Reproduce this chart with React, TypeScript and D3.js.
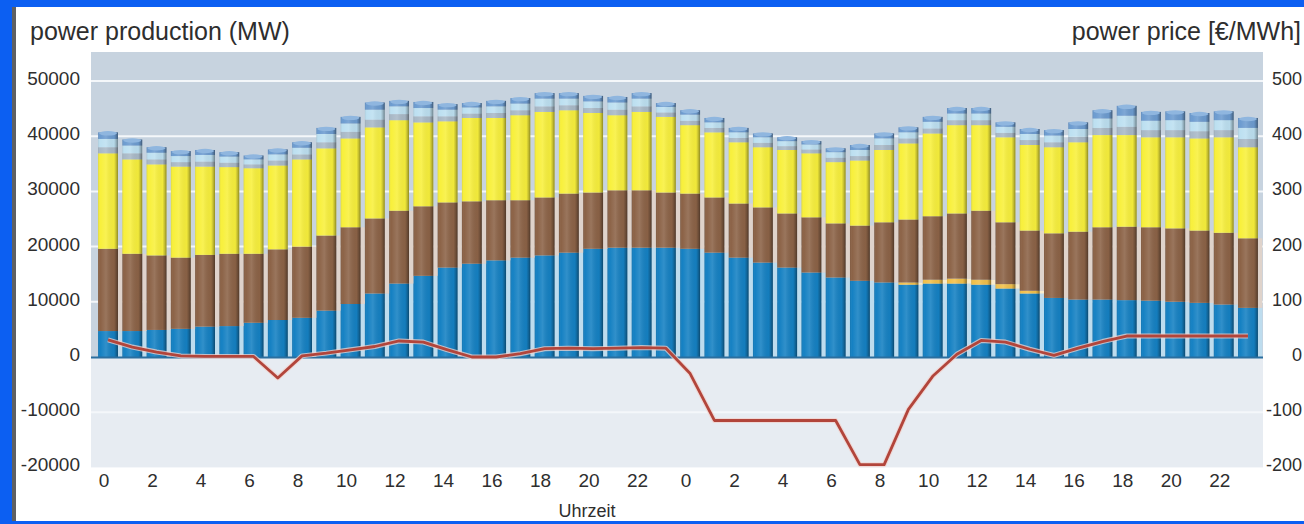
import * as d3 from 'd3';
import { useEffect, useRef } from 'react';

// 48 hourly values, two days
const hours = [
  0, 1, 2, 3, 4, 5, 6, 7, 8, 9, 10, 11, 12, 13, 14, 15, 16, 17, 18, 19, 20, 21, 22, 23,
  0, 1, 2, 3, 4, 5, 6, 7, 8, 9, 10, 11, 12, 13, 14, 15, 16, 17, 18, 19, 20, 21, 22, 23,
];

const blue = [
  4700, 4700, 4900, 5100, 5500, 5600, 6200, 6700, 7100, 8400, 9600, 11500,
  13300, 14700, 16200, 16900, 17500, 18000, 18400, 18900, 19600, 19800, 19800, 19800,
  19600, 18900, 18000, 17100, 16200, 15300, 14400, 13800, 13500, 13100, 13300, 13300,
  13100, 12400, 11500, 10700, 10400, 10400, 10300, 10200, 10000, 9800, 9500, 8900,
];
const orange = [
  0, 0, 0, 0, 0, 0, 0, 0, 0, 0, 0, 0,
  0, 0, 0, 0, 0, 0, 0, 0, 0, 0, 0, 0,
  0, 0, 0, 0, 0, 0, 0, 0, 0, 400, 700, 900,
  900, 800, 500, 0, 0, 0, 0, 0, 0, 0, 0, 0,
];
const brown = [
  14900, 14000, 13500, 12900, 13000, 13100, 12500, 12800, 12900, 13600, 13900, 13600,
  13200, 12600, 11800, 11300, 10900, 10400, 10500, 10700, 10200, 10400, 10400, 10000,
  10000, 10000, 9800, 10000, 9800, 10000, 9800, 10000, 10900, 11400, 11500, 11800,
  12500, 11200, 10900, 11700, 12300, 13100, 13300, 13300, 13300, 13100, 13000, 12600,
];
const yellow = [
  17300, 17100, 16500, 16500, 16000, 15700, 15500, 15200, 15800, 15800, 16100, 16500,
  16400, 15200, 14700, 15100, 14900, 15400, 15500, 15100, 14400, 13600, 14200, 13700,
  12400, 11800, 11100, 10900, 11500, 11600, 11100, 11800, 13100, 13800, 15000, 16000,
  15500, 15400, 15500, 15600, 16200, 16700, 16600, 16300, 16500, 16700, 17300, 16500,
];
const grey = [
  1100, 1100, 900, 800, 900, 800, 700, 900, 900, 1100, 1200, 1400,
  1100, 1100, 900, 800, 900, 900, 1000, 900, 900, 1000, 1000, 800,
  800, 800, 800, 800, 700, 700, 800, 800, 900, 900, 900, 900,
  900, 800, 900, 900, 1000, 1300, 1500, 1300, 1300, 1300, 1300, 1500,
];
const lightBlue = [
  1500, 1400, 1200, 1100, 1200, 1100, 900, 1100, 1200, 1500, 1500, 1800,
  1400, 1500, 1200, 1100, 1200, 1200, 1400, 1200, 1200, 1300, 1400, 1000,
  1100, 1000, 1000, 1000, 900, 900, 1000, 1100, 1200, 1100, 1200, 1200,
  1200, 1100, 1100, 1200, 1400, 1700, 2000, 1700, 1800, 1700, 1800, 2000,
];
const cap = [
  1200, 1100, 1000, 900, 900, 800, 700, 900, 1000, 1100, 1200, 1300,
  1000, 1100, 1000, 800, 1000, 1000, 1000, 1000, 1000, 1000, 1000, 700,
  800, 800, 800, 700, 700, 600, 700, 900, 900, 900, 900, 1000,
  1000, 800, 900, 1000, 1200, 1500, 1800, 1600, 1600, 1600, 1600, 1800,
];
const price = [
  31, 18, 9, 2, 1, 1, 1, -38, 2, 7, 13, 19,
  29, 27, 13, 0, 0, 6, 15, 16, 15, 16, 17, 16,
  -30, -115, -115, -115, -115, -115, -115, -195, -195, -95, -35, 5,
  30, 27, 14, 3, 16, 28, 38, 38, 38, 38, 38, 38,
];

const leftTicks = [50000, 40000, 30000, 20000, 10000, 0, -10000, -20000];
const rightTicks = [500, 400, 300, 200, 100, 0, -100, -200];
const gridLines = [50000, 40000, 30000, 20000, 10000, -10000];

const seriesKeys = ['blue', 'orange', 'brown', 'yellow', 'grey', 'lightBlue', 'cap'];
const seriesColors = ['#1581c3', '#f2c04a', '#8c6347', '#f8f03c', '#a9b9c7', '#bde0f1', '#6d9cd0'];
const gapGlow = [true, true, true, false, false, false, false];

const W = 1304;
const H = 524;
const FONT = "'Liberation Sans', Arial, sans-serif";

export default function App() {
  const svgRef = useRef(null);

  useEffect(() => {
    const svg = d3.select(svgRef.current);
    svg.selectAll('*').remove();

    const idx = d3.range(hours.length);
    const rows = idx.map((i) => ({
      blue: blue[i],
      orange: orange[i],
      brown: brown[i],
      yellow: yellow[i],
      grey: grey[i],
      lightBlue: lightBlue[i],
      cap: cap[i],
    }));
    const stacked = d3.stack().keys(seriesKeys)(rows as any);

    const x = d3
      .scaleBand()
      .domain(idx as any)
      .range([95.9, 1260.1])
      .paddingInner(0.18)
      .paddingOuter(0.09);
    const y = d3.scaleLinear().domain([-20000, 55250]).range([467.4, 52]);
    const yP = d3.scaleLinear().domain([-200, 552.5]).range([467.4, 52]);
    const bw = x.bandwidth();
    const gap = x.step() - bw;

    const defs = svg.append('defs');
    const sh = defs
      .append('linearGradient')
      .attr('id', 'shade')
      .attr('x1', 0)
      .attr('x2', 1)
      .attr('y1', 0)
      .attr('y2', 0);
    sh.append('stop').attr('offset', '0%').attr('stop-color', '#000').attr('stop-opacity', 0.1);
    sh.append('stop').attr('offset', '12%').attr('stop-color', '#fff').attr('stop-opacity', 0.0);
    sh.append('stop').attr('offset', '40%').attr('stop-color', '#fff').attr('stop-opacity', 0.12);
    sh.append('stop').attr('offset', '80%').attr('stop-color', '#000').attr('stop-opacity', 0.03);
    sh.append('stop').attr('offset', '90%').attr('stop-color', '#000').attr('stop-opacity', 0.2);
    sh.append('stop').attr('offset', '100%').attr('stop-color', '#000').attr('stop-opacity', 0.42);

    // frame
    svg.append('rect').attr('width', W).attr('height', H).attr('fill', '#ffffff');
    svg.append('rect').attr('width', W).attr('height', 7).attr('fill', '#0c5ff2');
    svg.append('rect').attr('width', 12).attr('height', H).attr('fill', '#0c5ff2');
    svg.append('rect').attr('y', 521).attr('width', W).attr('height', 3).attr('fill', '#0c5ff2');
    svg.append('rect').attr('x', 12).attr('y', 7).attr('width', 4).attr('height', 514).attr('fill', '#5f6062');

    // plot background
    svg
      .append('rect')
      .attr('x', 91)
      .attr('y', 52)
      .attr('width', 1172)
      .attr('height', y(0) - 52)
      .attr('fill', '#c7d3df');
    svg
      .append('rect')
      .attr('x', 91)
      .attr('y', y(0))
      .attr('width', 1172)
      .attr('height', 467.4 - y(0))
      .attr('fill', '#e7ecf2');

    svg
      .append('g')
      .selectAll('line')
      .data(gridLines)
      .enter()
      .append('line')
      .attr('x1', 91)
      .attr('x2', 1263)
      .attr('y1', (d) => y(d))
      .attr('y2', (d) => y(d))
      .attr('stroke', '#f4f7fa')
      .attr('stroke-width', 2);

    // bars
    const bars = svg.append('g');
    stacked.forEach((layer: any, k: number) => {
      const col = seriesColors[k];
      const g = bars.append('g');
      if (gapGlow[k]) {
        g.selectAll('rect.glow')
          .data(layer)
          .enter()
          .append('rect')
          .attr('class', 'glow')
          .attr('x', (d: any, i: number) => (x(i as any) as number) + bw)
          .attr('y', (d: any) => y(d[1]))
          .attr('width', gap)
          .attr('height', (d: any) => Math.max(0, y(d[0]) - y(d[1])))
          .attr('fill', d3.interpolateRgb(col, '#ffffff')(0.72));
      }
      g.selectAll('rect.seg')
        .data(layer)
        .enter()
        .append('rect')
        .attr('class', 'seg')
        .attr('x', (d: any, i: number) => x(i as any) as number)
        .attr('y', (d: any) => y(d[1]))
        .attr('width', bw)
        .attr('height', (d: any) => Math.max(0, y(d[0]) - y(d[1])))
        .attr('fill', col);
    });

    const top = stacked[stacked.length - 1];
    // cylinder shading over each bar
    bars
      .append('g')
      .selectAll('rect')
      .data(top)
      .enter()
      .append('rect')
      .attr('x', (d: any, i: number) => x(i as any) as number)
      .attr('y', (d: any) => y(d[1]))
      .attr('width', bw)
      .attr('height', (d: any) => y(0) - y(d[1]))
      .attr('fill', 'url(#shade)');
    // rounded top
    bars
      .append('g')
      .selectAll('ellipse')
      .data(top)
      .enter()
      .append('ellipse')
      .attr('cx', (d: any, i: number) => (x(i as any) as number) + bw / 2)
      .attr('cy', (d: any) => y(d[1]) + 1)
      .attr('rx', bw / 2 - 1)
      .attr('ry', 2.2)
      .attr('fill', '#8fb6df');

    // zero line
    svg
      .append('line')
      .attr('x1', 91)
      .attr('x2', 1263)
      .attr('y1', y(0) + 0.5)
      .attr('y2', y(0) + 0.5)
      .attr('stroke', '#2b6f9f')
      .attr('stroke-width', 2);

    // price line
    const line = d3
      .line<number>()
      .x((d, i) => (x(i as any) as number) + bw / 2)
      .y((d) => yP(d));
    svg
      .append('path')
      .datum(price)
      .attr('d', line as any)
      .attr('fill', 'none')
      .attr('stroke', '#f1d2cc')
      .attr('stroke-width', 5)
      .attr('stroke-opacity', 0.75)
      .attr('stroke-linejoin', 'round');
    svg
      .append('path')
      .datum(price)
      .attr('d', line as any)
      .attr('fill', 'none')
      .attr('stroke', '#b2453b')
      .attr('stroke-width', 2.8)
      .attr('stroke-linejoin', 'round');

    // titles
    svg
      .append('text')
      .attr('x', 30)
      .attr('y', 40)
      .style('font-family', FONT)
      .style('font-size', 25)
      .attr('fill', '#2e2e2e')
      .text('power production (MW)');
    svg
      .append('text')
      .attr('x', 1301)
      .attr('y', 40)
      .attr('text-anchor', 'end')
      .style('font-family', FONT)
      .style('font-size', 25)
      .attr('fill', '#2e2e2e')
      .text('power price [€/MWh]');

    // left axis labels
    svg
      .append('g')
      .selectAll('text')
      .data(leftTicks)
      .enter()
      .append('text')
      .attr('x', 80)
      .attr('y', (d) => y(d) + 4)
      .attr('text-anchor', 'end')
      .style('font-family', FONT)
      .style('font-size', 19)
      .attr('fill', '#2e2e2e')
      .text((d) => String(d));

    // right axis labels
    svg
      .append('g')
      .selectAll('text')
      .data(rightTicks)
      .enter()
      .append('text')
      .attr('x', 1302)
      .attr('y', (d) => yP(d) + 4)
      .attr('text-anchor', 'end')
      .style('font-family', FONT)
      .style('font-size', 18)
      .attr('fill', '#2e2e2e')
      .text((d) => String(d));

    // hour labels
    svg
      .append('g')
      .selectAll('text')
      .data(idx.filter((i) => hours[i] % 2 === 0))
      .enter()
      .append('text')
      .attr('x', (i) => (x(i as any) as number) + bw / 2 - 4)
      .attr('y', 487)
      .attr('text-anchor', 'middle')
      .style('font-family', FONT)
      .style('font-size', 19)
      .attr('fill', '#2e2e2e')
      .text((i) => String(hours[i]));

    svg
      .append('text')
      .attr('x', 587)
      .attr('y', 517)
      .attr('text-anchor', 'middle')
      .style('font-family', FONT)
      .style('font-size', 18)
      .attr('fill', '#2e2e2e')
      .text('Uhrzeit');
  }, []);

  return (
    <div>
      <svg
        ref={svgRef}
        width={W}
        height={H}
        style={{ position: 'absolute', left: 0, top: 0 }}
      ></svg>
    </div>
  );
}
